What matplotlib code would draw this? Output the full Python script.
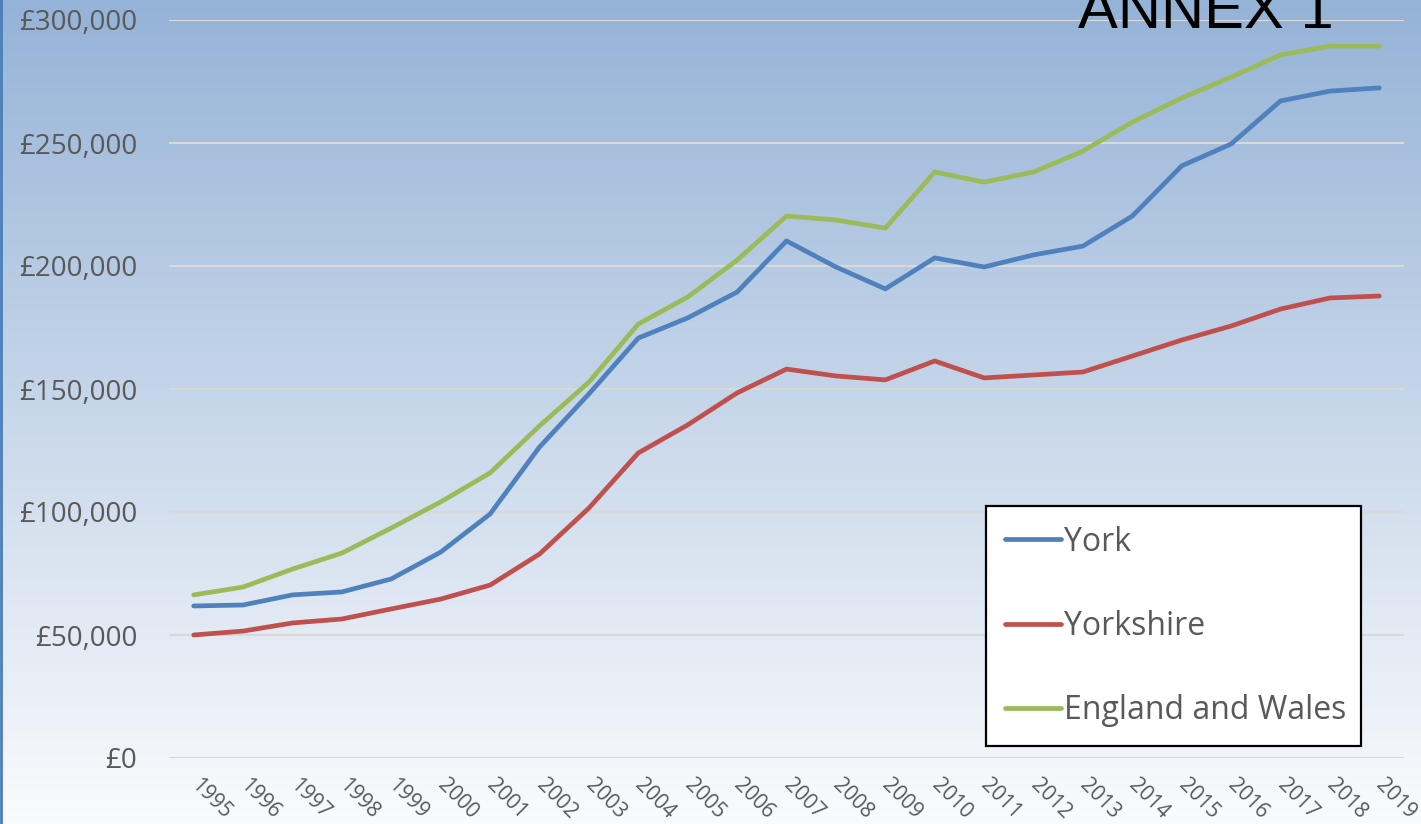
import numpy as np
import matplotlib.pyplot as plt
from matplotlib.ticker import FuncFormatter

years = [str(y) for y in range(1995, 2020)]

york = [61.8, 62.2, 66.3, 67.5, 72.8, 83.7, 99.2, 126.4, 148.0, 170.7, 178.9, 189.4,
        210.2, 199.6, 190.7, 203.3, 199.6, 204.5, 208.1, 220.3, 240.7, 249.6, 267.1,
        271.1, 272.4]
yorkshire = [50.0, 51.6, 54.9, 56.5, 60.6, 64.6, 70.3, 82.9, 101.6, 124.0, 135.4, 148.4,
             158.1, 155.3, 153.7, 161.4, 154.5, 155.7, 156.9, 163.4, 169.9, 175.6, 182.5,
             187.0, 187.8]
eng_wales = [66.3, 69.5, 76.8, 83.3, 93.5, 104.1, 115.9, 135.0, 152.8, 176.4, 187.4, 202.4,
             220.3, 218.7, 215.4, 238.2, 234.1, 238.2, 246.7, 258.5, 268.3, 276.8, 285.8,
             289.4, 289.4]

series = [("York", york, "#4F81BD"),
          ("Yorkshire", yorkshire, "#C0504D"),
          ("England and Wales", eng_wales, "#9BBB59")]

plt.rcParams['font.family'] = ['Open Sans', 'DejaVu Sans']

fig = plt.figure(figsize=(14.21, 8.24), dpi=100)

# gradient background over the whole figure
bg = fig.add_axes([0, 0, 1, 1])
top = np.array([149, 179, 215]) / 255
bot = np.array([250, 251, 253]) / 255
t = np.linspace(0, 1, 256)[:, None]
grad = (top * (1 - t) + bot * t)[:, None, :]
bg.imshow(grad, aspect='auto', extent=[0, 1, 0, 1])
bg.plot([0.0007, 0.0007], [0, 1], color="#4A7EBB", lw=2)
bg.set_xlim(0, 1)
bg.set_ylim(0, 1)
bg.axis('off')

ax = fig.add_axes([169 / 1421, 1 - 758 / 824, (1404 - 169) / 1421, (758 - 20) / 824])
ax.patch.set_alpha(0)

x = np.arange(len(years))
for name, vals, col in series:
    ax.plot(x, np.array(vals) * 1000, color=col, lw=3.4, label=name,
            solid_capstyle='round', solid_joinstyle='round')

ax.set_xlim(-0.5, len(years) - 0.5)
ax.set_ylim(0, 300000)
ax.set_yticks(np.arange(0, 300001, 50000))
ax.yaxis.set_major_formatter(FuncFormatter(lambda v, p: "£{:,.0f}".format(v)))
ax.grid(axis='y', color="#D9D9D9", lw=1.5)
ax.set_axisbelow(True)
for s in ax.spines.values():
    s.set_visible(False)
ax.tick_params(length=0)
ax.tick_params(axis='y', labelsize=20, labelcolor="#595959", pad=23)
ax.set_xticks(x)
ax.set_xticklabels(years, rotation=-45, ha='left', va='center', rotation_mode='anchor',
                   fontsize=15, color="#595959")
ax.tick_params(axis='x', pad=17)
for lbl in ax.get_xticklabels():
    lbl.set_x(lbl.get_position()[0])

leg = ax.legend(loc='lower left', bbox_to_anchor=((986 - 169) / 1235, (758 - 746) / 738,
                                                   (1361 - 986) / 1235, (746 - 502) / 738),
                mode='expand', fontsize=23, frameon=True, fancybox=False,
                handlelength=1.75, handletextpad=0.1, labelspacing=1.6,
                borderpad=0.6, borderaxespad=0)
leg.get_frame().set_edgecolor('black')
leg.get_frame().set_linewidth(1.6)
leg.get_frame().set_facecolor('white')
leg.get_frame().set_alpha(1)
for txt in leg.get_texts():
    txt.set_color("#595959")

fig.text(1078 / 1421, 1 - 28 / 824, "ANNEX 1", fontsize=43, family='Liberation Sans',
         color='black', ha='left', va='baseline')

fig.savefig("out.png", dpi=100)
